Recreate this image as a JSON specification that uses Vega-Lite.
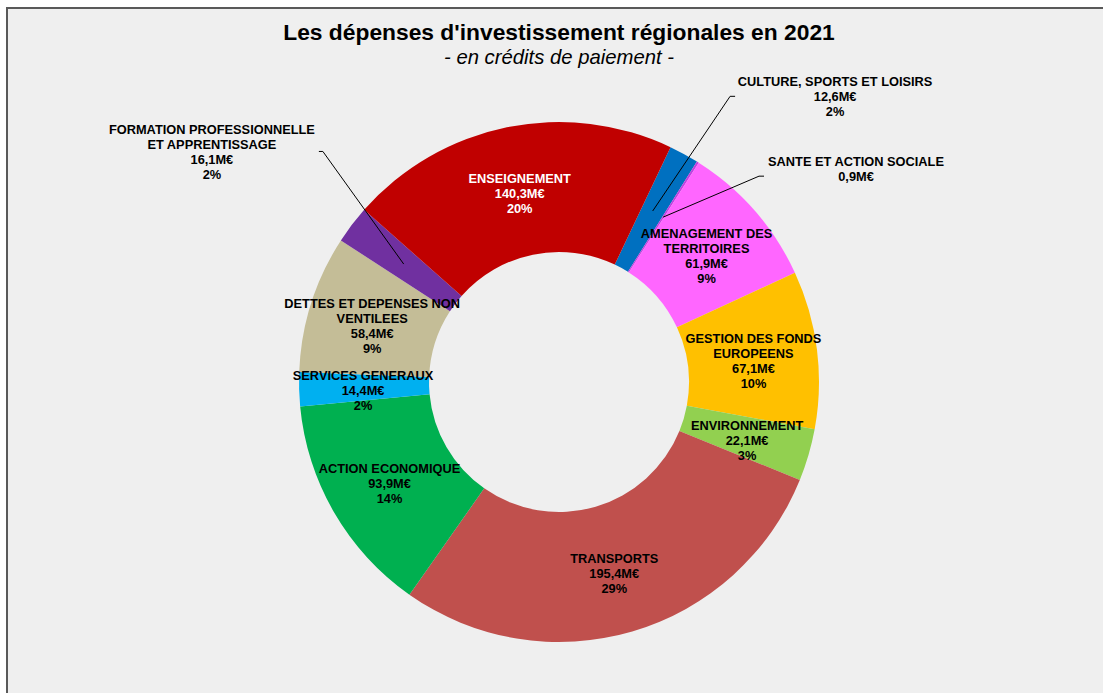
{
  "$schema": "https://vega.github.io/schema/vega-lite/v6.json",
  "width": 1104,
  "height": 748,
  "autosize": {"type": "none"},
  "padding": {"left": 7, "top": 8, "right": 0, "bottom": 0},
  "background": "white",
  "config": {
    "view": {"fill": "#EFEFEF", "stroke": "#595959", "strokeWidth": 2},
    "font": "Liberation Sans"
  },
  "title": {
    "text": "Les dépenses d'investissement régionales en 2021",
    "subtitle": "- en crédits de paiement -",
    "font": "Liberation Sans",
    "fontSize": 22.8,
    "fontWeight": "bold",
    "color": "#000000",
    "subtitleFont": "Liberation Sans",
    "subtitleFontSize": 20.3,
    "subtitleFontStyle": "italic",
    "subtitleColor": "#000000",
    "subtitlePadding": 3,
    "anchor": "middle",
    "frame": "group",
    "offset": -60
  },
  "data": {
    "values": [
      {"category": "CULTURE, SPORTS ET LOISIRS", "value": 12.6, "pct": 2},
      {"category": "SANTE ET ACTION SOCIALE", "value": 0.9, "pct": null},
      {"category": "AMENAGEMENT DES\nTERRITOIRES", "value": 61.9, "pct": 9},
      {"category": "GESTION DES FONDS\nEUROPEENS", "value": 67.1, "pct": 10},
      {"category": "ENVIRONNEMENT", "value": 22.1, "pct": 3},
      {"category": "TRANSPORTS", "value": 195.4, "pct": 29},
      {"category": "ACTION ECONOMIQUE", "value": 93.9, "pct": 14},
      {"category": "SERVICES GENERAUX", "value": 14.4, "pct": 2},
      {"category": "DETTES ET DEPENSES NON\nVENTILEES", "value": 58.4, "pct": 9},
      {"category": "FORMATION PROFESSIONNELLE\nET APPRENTISSAGE", "value": 16.1, "pct": 2},
      {"category": "ENSEIGNEMENT", "value": 140.3, "pct": 20}
    ]
  },
  "transform": [
    {"window": [{"op": "row_number", "as": "idx"}]},
    {"window": [{"op": "sum", "field": "value", "as": "cum"}], "sort": [{"field": "idx"}], "frame": [null, 0]},
    {"joinaggregate": [{"op": "sum", "field": "value", "as": "total"}]},
    {"calculate": "0.4433 + 2*PI*(datum.cum - datum.value/2)/datum.total", "as": "mid"},
    {"calculate": "split(datum.category + '\\n' + replace(format(datum.value, '.1f'), '.', ',') + 'M€' + (isValid(datum.pct) ? '\\n' + datum.pct + '%' : ''), '\\n')", "as": "label"},
    {"calculate": "indexof(datum.category,'CULTURE')==0 ? 1 : indexof(datum.category,'SANTE')==0 ? 2 : indexof(datum.category,'FORMATION')==0 ? 3 : 0", "as": "callout"},
    {"calculate": "datum.callout == 1 ? 0.0384 : datum.callout == 2 ? 0.2077 : 0.1239", "as": "dth"},
    {"calculate": "datum.callout == 1 ? 333 : datum.callout == 2 ? 287 : 330", "as": "rr"},
    {"calculate": "195*sin(datum.mid)", "as": "x0"},
    {"calculate": "-195*cos(datum.mid)", "as": "y0"},
    {"calculate": "datum.rr*sin(datum.mid + datum.dth)", "as": "xe"},
    {"calculate": "-datum.rr*cos(datum.mid + datum.dth)", "as": "ye"},
    {"calculate": "datum.xe + (datum.xe > 0 ? 5 : -4)", "as": "xh"},
    {"calculate": "datum.callout == 0 ? 196*sin(datum.mid) : datum.xe + (datum.callout == 1 ? 105 : datum.callout == 2 ? 97 : -111)", "as": "lx"},
    {"calculate": "(datum.callout == 0 ? 4 - 196*cos(datum.mid) : datum.ye + (datum.callout == 1 ? 1 : datum.callout == 2 ? -7 : 1)) - (length(datum.label) - 1)*7.5", "as": "ly"}
  ],
  "layer": [
    {
      "mark": {"type": "arc", "innerRadius": 130, "outerRadius": 260},
      "encoding": {
        "theta": {"field": "value", "type": "quantitative", "stack": true, "scale": {"range": [0.4433, 6.7265]}},
        "order": {"field": "idx", "type": "quantitative"},
        "color": {
          "field": "category",
          "type": "nominal",
          "legend": null,
          "scale": {
            "domain": [
              "CULTURE, SPORTS ET LOISIRS",
              "SANTE ET ACTION SOCIALE",
              "AMENAGEMENT DES\nTERRITOIRES",
              "GESTION DES FONDS\nEUROPEENS",
              "ENVIRONNEMENT",
              "TRANSPORTS",
              "ACTION ECONOMIQUE",
              "SERVICES GENERAUX",
              "DETTES ET DEPENSES NON\nVENTILEES",
              "FORMATION PROFESSIONNELLE\nET APPRENTISSAGE",
              "ENSEIGNEMENT"
            ],
            "range": ["#0070C0", "#C040E0", "#FF66FF", "#FFC000", "#92D050", "#C0504D", "#00B050", "#00B0F0", "#C4BD97", "#7030A0", "#C00000"]
          }
        }
      }
    },
    {
      "transform": [{"filter": "datum.callout > 0"}],
      "mark": {"type": "rule", "color": "#000000", "strokeWidth": 1},
      "encoding": {
        "x": {"field": "x0", "type": "quantitative", "scale": {"domain": [-552, 552], "nice": false, "zero": false}, "axis": null},
        "y": {"field": "y0", "type": "quantitative", "scale": {"domain": [-374, 374], "reverse": true, "nice": false, "zero": false}, "axis": null},
        "x2": {"field": "xe"},
        "y2": {"field": "ye"}
      }
    },
    {
      "transform": [{"filter": "datum.callout > 0"}],
      "mark": {"type": "rule", "color": "#000000", "strokeWidth": 1},
      "encoding": {
        "x": {"field": "xe", "type": "quantitative"},
        "x2": {"field": "xh"},
        "y": {"field": "ye", "type": "quantitative"}
      }
    },
    {
      "mark": {"type": "text", "fontSize": 12.8, "fontWeight": "bold", "lineHeight": 15, "align": "center", "baseline": "middle", "font": "Liberation Sans"},
      "encoding": {
        "x": {"field": "lx", "type": "quantitative"},
        "y": {"field": "ly", "type": "quantitative"},
        "text": {"field": "label", "type": "nominal"},
        "color": {"condition": {"test": "datum.category == 'ENSEIGNEMENT'", "value": "#FFFFFF"}, "value": "#000000"}
      }
    }
  ]
}
